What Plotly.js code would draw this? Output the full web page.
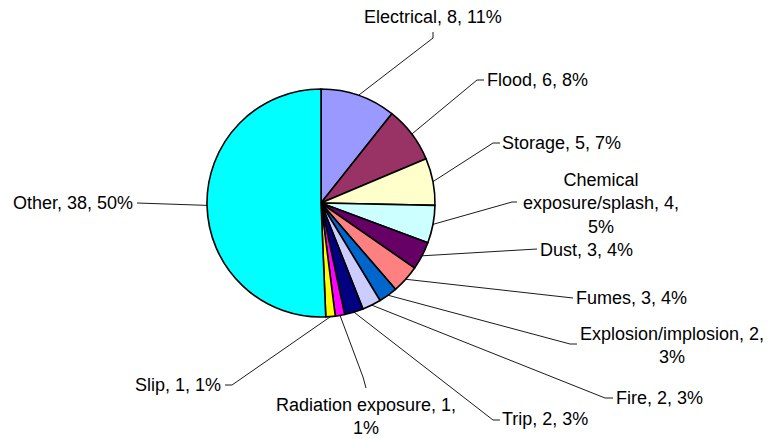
<!DOCTYPE html>
<html>
<head>
<meta charset="utf-8">
<script src="https://cdn.plot.ly/plotly-3.0.1.min.js"></script>
<style>
  html, body { margin: 0; padding: 0; background: #fff; }
  #chart { width: 770px; height: 439px; }
</style>
</head>
<body>
<div id="chart"></div>
<script>
// ---- Data ----
var categories = ["Electrical", "Flood", "Storage", "Chemical exposure/splash", "Dust", "Fumes",
                  "Explosion/implosion", "Fire", "Trip", "Radiation exposure", "Slip", "Other"];
var counts = [8, 6, 5, 4, 3, 3, 2, 2, 2, 1, 1, 38];
var pctLabels = ["11%", "8%", "7%", "5%", "4%", "4%", "3%", "3%", "3%", "1%", "1%", "50%"];
var sliceColors = ["#9999FF", "#993366", "#FFFFCC", "#CCFFFF", "#660066", "#FF8080",
                   "#0066CC", "#CCCCFF", "#000080", "#FF00FF", "#FFFF00", "#00FFFF"];

// ---- Layout helpers (positions, in pixels of the 770x439 page) ----
var W = 770, H = 439;
var cx = 321, cy = 203, R = 114;
// Label text html (line breaks) per slice
var labelTexts = categories.map(function (c, i) { return c + ", " + counts[i] + ", " + pctLabels[i]; });
labelTexts[3] = "Chemical<br>exposure/splash, " + counts[3] + ",<br>" + pctLabels[3];
labelTexts[6] = "Explosion/implosion, " + counts[6] + ",<br>" + pctLabels[6];
labelTexts[9] = "Radiation exposure, " + counts[9] + ",<br>" + pctLabels[9];

// leader geometry: bend point, end point, text anchor point, anchors
var leaders = [
  {bend: [433, 38],  end: [433, 32],  tx: 433, ty: 17,  xa: "center"},
  {bend: [477, 80],  end: [484, 80],  tx: 485, ty: 80,  xa: "left"},
  {bend: [493, 143], end: [500, 143], tx: 500, ty: 143, xa: "left"},
  {bend: [512, 202], end: [517, 202], tx: 601, ty: 203, xa: "center"},
  {bend: null,       end: [537, 249], tx: 538, ty: 250, xa: "left"},
  {bend: null,       end: [573, 298], tx: 574, ty: 298, xa: "left"},
  {bend: [570, 344], end: [577, 344], tx: 672, ty: 345, xa: "center"},
  {bend: [605, 398], end: [613, 398], tx: 614, ty: 398, xa: "left"},
  {bend: [493, 420], end: [500, 420], tx: 500, ty: 419, xa: "left"},
  {bend: [363, 377], end: [366, 388], tx: 366, ty: 416, xa: "center"},
  {bend: [232, 385], end: [225, 385], tx: 223, ty: 385, xa: "right"},
  {bend: null,       end: [137, 203], tx: 135, ty: 203, xa: "right"}
];

function px(x) { return x / W; }
function py(y) { return 1 - y / H; }

var total = counts.reduce(function (a, b) { return a + b; }, 0);
var shapes = [], annotations = [];
var cum = 0;
counts.forEach(function (v, i) {
  var mid = (cum + v / 2) / total * 2 * Math.PI; // clockwise from 12 o'clock
  cum += v;
  var ex = cx + R * Math.sin(mid), ey = cy - R * Math.cos(mid);
  var L = leaders[i];
  var path = "M " + px(ex) + "," + py(ey);
  if (L.bend) path += " L " + px(L.bend[0]) + "," + py(L.bend[1]);
  path += " L " + px(L.end[0]) + "," + py(L.end[1]);
  shapes.push({type: "path", xref: "paper", yref: "paper", path: path,
               line: {color: "#000000", width: 0.9}});
  annotations.push({xref: "paper", yref: "paper", x: px(L.tx), y: py(L.ty),
                    xanchor: L.xa, yanchor: "middle", showarrow: false, align: "center",
                    text: labelTexts[i],
                    font: {family: "Liberation Sans, Arial, sans-serif", size: 18, color: "#000"}});
});

var trace = {
  type: "pie",
  labels: categories,
  values: counts,
  sort: false,
  direction: "clockwise",
  rotation: 0,
  textinfo: "none",
  hoverinfo: "none",
  showlegend: false,
  marker: {colors: sliceColors, line: {color: "#000000", width: 1.6}},
  domain: {x: [px(cx - R), px(cx + R)], y: [py(cy + R), py(cy - R)]}
};

var layout = {
  width: W, height: H,
  margin: {l: 0, r: 0, t: 0, b: 0},
  paper_bgcolor: "#ffffff",
  plot_bgcolor: "#ffffff",
  showlegend: false,
  shapes: shapes,
  annotations: annotations
};

Plotly.newPlot("chart", [trace], layout, {displayModeBar: false, staticPlot: true});
</script>
</body>
</html>
